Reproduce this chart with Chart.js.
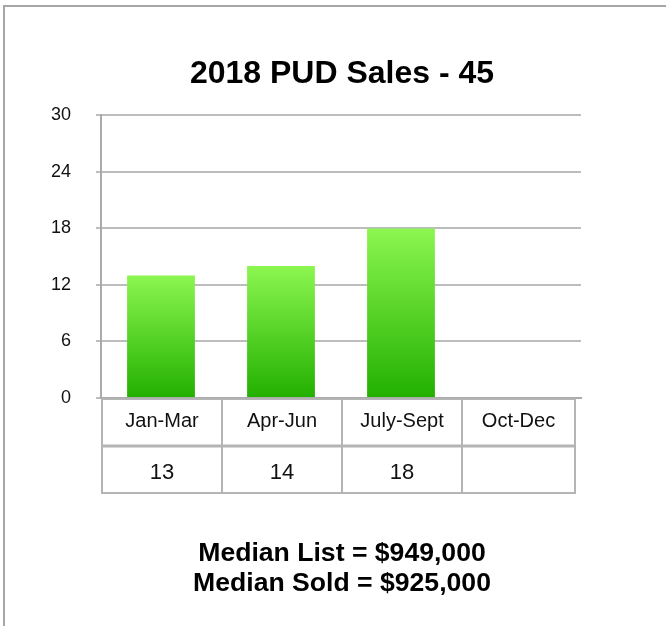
<!DOCTYPE html>
<html>
<head>
<meta charset="utf-8">
<script src="https://cdn.jsdelivr.net/npm/chart.js@4.4.1/dist/chart.umd.min.js"></script>
<style>
  html, body { margin: 0; padding: 0; background: #fff; }
  #wrap { position: relative; width: 666px; height: 626px; overflow: hidden; }
  #frame { position: absolute; left: 3px; top: 5px; width: 700px; height: 700px;
           border-left: 2px solid #a6a6a6; border-top: 2px solid #a6a6a6; }
  canvas { position: absolute; left: 0; top: 0; }
  .note { position: absolute; left: 0; width: 684px; text-align: center;
          font-family: "Liberation Sans", Arial, sans-serif; font-weight: bold;
          font-size: 26.6px; color: #000; line-height: 30px; }
</style>
</head>
<body>
<div id="wrap">
  <div id="frame"></div>
  <canvas id="c" width="666" height="626"></canvas>
  <div class="note" style="top:537px;">Median List = $949,000</div>
  <div class="note" style="top:567px;">Median Sold = $925,000</div>
</div>
<script>
const titleText = "2018 PUD Sales - 45";
const categories = ["Jan-Mar", "Apr-Jun", "July-Sept", "Oct-Dec"];
const sales = [13, 14, 18, null];
const yTicks = [0, 6, 12, 18, 24, 30];

const FONT = '"Liberation Sans", Arial, sans-serif';

function barGradient(ctx) {
  const chart = ctx.chart;
  const y = chart.scales && chart.scales.y;
  const v = ctx.raw;
  if (!y || v == null || !chart.chartArea) return '#4cd22a';
  const top = y.getPixelForValue(v);
  const bottom = y.getPixelForValue(0);
  if (!isFinite(top) || !isFinite(bottom) || top === bottom) return '#4cd22a';
  const g = chart.ctx.createLinearGradient(0, top, 0, bottom);
  g.addColorStop(0, '#8cf650');
  g.addColorStop(1, '#22b000');
  return g;
}

// Center the title on the whole picture rather than on the plot box
const titleCenterPlugin = {
  id: 'titleCenter',
  afterLayout(chart) {
    if (chart.titleBlock) {
      chart.titleBlock.left = 0;
      chart.titleBlock.right = 684;
    }
  }
};

const tablePlugin = {
  id: 'dataTable',
  afterDraw(chart) {
    const ctx = chart.ctx;
    const x = chart.scales.x;
    const area = chart.chartArea;
    const rowH = 47.5;
    const n = categories.length;
    ctx.save();
    ctx.strokeStyle = '#b4b4b4';
    ctx.lineWidth = 2;
    for (let i = 0; i < n; i++) {
      const c = x.getPixelForValue(i);
      const half = (x.getPixelForValue(1) - x.getPixelForValue(0)) / 2;
      let left = c - half + 1;
      let right = c + half + 1;
      if (i === n - 1) right = area.right - 6;
      const r1 = area.bottom + 1;
      const r2 = area.bottom + 1 + rowH;
      ctx.strokeRect(left, r1, right - left, rowH - 1);
      ctx.strokeRect(left, r2, right - left, rowH - 1);
      ctx.fillStyle = '#111';
      ctx.textAlign = 'center';
      ctx.textBaseline = 'middle';
      ctx.font = '20px ' + FONT;
      ctx.fillText(categories[i], (left + right) / 2, r1 + rowH / 2 - 1);
      if (sales[i] != null) {
        ctx.font = '22px ' + FONT;
        ctx.fillText(String(sales[i]), (left + right) / 2, r2 + rowH / 2 + 3);
      }
    }
    ctx.restore();
  }
};

new Chart(document.getElementById('c'), {
  type: 'bar',
  data: {
    labels: categories,
    datasets: [{
      data: sales,
      backgroundColor: barGradient,
      borderWidth: 0,
      categoryPercentage: 1,
      barPercentage: 0.565
    }]
  },
  options: {
    responsive: false,
    animation: false,
    devicePixelRatio: 1,
    layout: { padding: { left: 0, right: 85, top: 0, bottom: 228 } },
    plugins: {
      legend: { display: false },
      tooltip: { enabled: false },
      title: {
        display: true,
        text: titleText,
        color: '#000',
        font: { family: FONT, size: 32, weight: 'bold', lineHeight: 1.2 },
        padding: { top: 55, bottom: 22 }
      }
    },
    scales: {
      x: {
        grid: { display: false },
        ticks: { display: false },
        border: { display: true, color: '#aaaaaa', width: 2 },
        afterFit(scale) { scale.height = 0; }
      },
      y: {
        min: 0,
        max: 30,
        afterBuildTicks(scale) { scale.ticks = yTicks.map(v => ({ value: v })); },
        afterFit(scale) { scale.width = 101; },
        ticks: {
          color: '#111',
          font: { family: FONT, size: 18 },
          padding: 25
        },
        grid: { color: '#bdbdbd', lineWidth: 2, tickLength: 5, drawTicks: true },
        border: { display: true, color: '#aaaaaa', width: 2 }
      }
    }
  },
  plugins: [titleCenterPlugin, tablePlugin]
});
</script>
</body>
</html>
